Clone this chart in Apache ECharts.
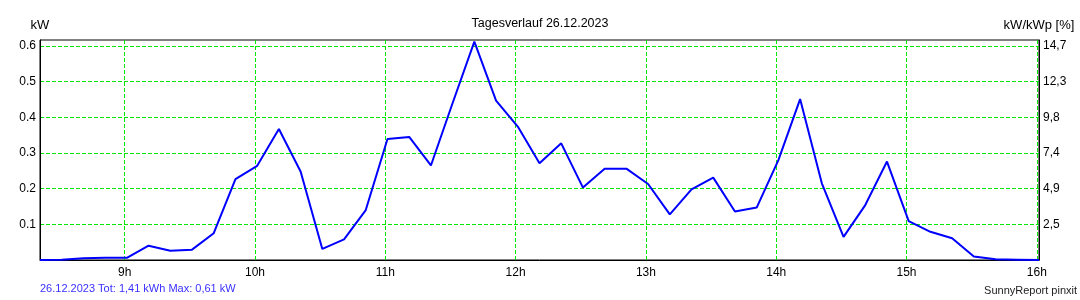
<!DOCTYPE html>
<html>
<head>
<meta charset="utf-8">
<script src="https://cdn.jsdelivr.net/npm/echarts@6/dist/echarts.min.js"></script>
<style>
html,body{margin:0;padding:0;background:#fff;}
#chart{width:1080px;height:300px;}
</style>
</head>
<body>
<div id="chart"></div>
<script>
// Measurement times (10-minute readings)
const times = [
  '08:21','08:31','08:41','08:51','09:01','09:11','09:21','09:31','09:41','09:51',
  '10:01','10:11','10:21','10:31','10:41','10:51','11:01','11:11','11:21','11:31',
  '11:41','11:51','12:01','12:11','12:21','12:31','12:41','12:51','13:01','13:11',
  '13:21','13:31','13:41','13:51','14:01','14:11','14:21','14:31','14:41','14:51',
  '15:01','15:11','15:21','15:31','15:41','15:51','16:01'
];
// Power in kW
const powerKW = [
  0.000, 0.001, 0.005, 0.006, 0.006, 0.040, 0.026, 0.029, 0.075, 0.227,
  0.264, 0.367, 0.248, 0.031, 0.058, 0.140, 0.339, 0.345, 0.265, 0.440,
  0.612, 0.447, 0.374, 0.271, 0.327, 0.203, 0.256, 0.256, 0.213, 0.128,
  0.198, 0.231, 0.136, 0.147, 0.280, 0.451, 0.215, 0.065, 0.154, 0.276,
  0.109, 0.079, 0.061, 0.010, 0.002, 0.001, 0.000
];
const xTickHours = [9, 10, 11, 12, 13, 14, 15, 16];
const xTickLabels = ['9h', '10h', '11h', '12h', '13h', '14h', '15h', '16h'];
const leftTickValues = [0.1, 0.2, 0.3, 0.4, 0.5, 0.6];
const leftTickLabels = ['0.1', '0.2', '0.3', '0.4', '0.5', '0.6'];
const rightTickLabels = ['2,5', '4,9', '7,4', '9,8', '12,3', '14,7'];
const titleText = 'Tagesverlauf 26.12.2023';
const leftUnit = 'kW';
const rightUnit = 'kW/kWp [%]';
const footerLeft = '26.12.2023 Tot: 1,41 kWh Max: 0,61 kW';
const footerRight = 'SunnyReport pinxit';

const toHours = s => { const p = s.split(':'); return +p[0] + (+p[1]) / 60; };
const seriesData = times.map((t, i) => [toHours(t), powerKW[i]]);

const X_MIN = toHours('08:21');
const X_MAX = toHours('16:01');
const Y_MAX = 0.6167;
const FONT = '"Liberation Sans", Arial, sans-serif';

function lookup(values, labels, v) {
  for (let i = 0; i < values.length; i++) {
    if (Math.abs(values[i] - v) < 1e-6) return labels[i];
  }
  return '';
}

const chart = echarts.init(document.getElementById('chart'), null, {renderer: 'canvas'});
chart.setOption({
  animation: false,
  backgroundColor: '#ffffff',
  title: {
    text: titleText,
    left: 'center',
    top: 12,
    textStyle: {fontFamily: FONT, fontSize: 12.5, fontWeight: 'normal', color: '#000'}
  },
  grid: {
    left: 40, right: 41, top: 40, bottom: 40,
    show: true, borderColor: '#000', borderWidth: 1, backgroundColor: '#fff'
  },
  xAxis: {
    type: 'value',
    min: X_MIN, max: X_MAX,
    splitNumber: 8,
    axisLine: {show: true, lineStyle: {color: '#000', width: 1}},
    axisTick: {show: false},
    axisLabel: {
      show: true, margin: 7, color: '#000', fontFamily: FONT, fontSize: 12,
      showMinLabel: false, showMaxLabel: false,
      formatter: v => lookup(xTickHours, xTickLabels, v)
    },
    splitLine: {
      show: true, showMinLine: false, showMaxLine: false,
      lineStyle: {color: '#00e600', type: [4, 2], width: 1}
    }
  },
  yAxis: [
    {
      type: 'value', position: 'left',
      min: 0, max: Y_MAX, interval: 0.1,
      name: leftUnit, nameLocation: 'end', nameGap: 8,
      nameTextStyle: {fontFamily: FONT, fontSize: 13, color: '#000'},
      axisLine: {show: true, lineStyle: {color: '#000', width: 1}},
      axisTick: {show: false},
      axisLabel: {
        margin: 4, color: '#000', fontFamily: FONT, fontSize: 12,
        showMinLabel: false, showMaxLabel: false,
        formatter: v => lookup(leftTickValues, leftTickLabels, v)
      },
      splitLine: {
        show: true, showMinLine: false, showMaxLine: false,
        lineStyle: {color: '#00e600', type: [4, 2], width: 1}
      }
    },
    {
      type: 'value', position: 'right',
      min: 0, max: Y_MAX, interval: 0.1,
      name: rightUnit, nameLocation: 'end', nameGap: 8,
      nameTextStyle: {fontFamily: FONT, fontSize: 13, color: '#000'},
      axisLine: {show: true, lineStyle: {color: '#000', width: 1}},
      axisTick: {show: false},
      axisLabel: {
        margin: 4, color: '#000', fontFamily: FONT, fontSize: 12,
        showMinLabel: false, showMaxLabel: false,
        formatter: v => lookup(leftTickValues, rightTickLabels, v)
      },
      splitLine: {show: false}
    }
  ],
  series: [{
    type: 'line',
    data: seriesData,
    showSymbol: false,
    symbol: 'none',
    lineStyle: {color: '#0000ff', width: 2},
    itemStyle: {color: '#0000ff'},
    z: 5
  }],
  graphic: [
    {
      type: 'text', left: 40, top: 283,
      style: {text: footerLeft, fill: '#3a30ff', font: '11px "Liberation Sans", Arial, sans-serif'}
    },
    {
      type: 'text', right: 3, top: 285,
      style: {text: footerRight, fill: '#222', font: '11px "Liberation Sans", Arial, sans-serif'}
    }
  ]
});
</script>
</body>
</html>
